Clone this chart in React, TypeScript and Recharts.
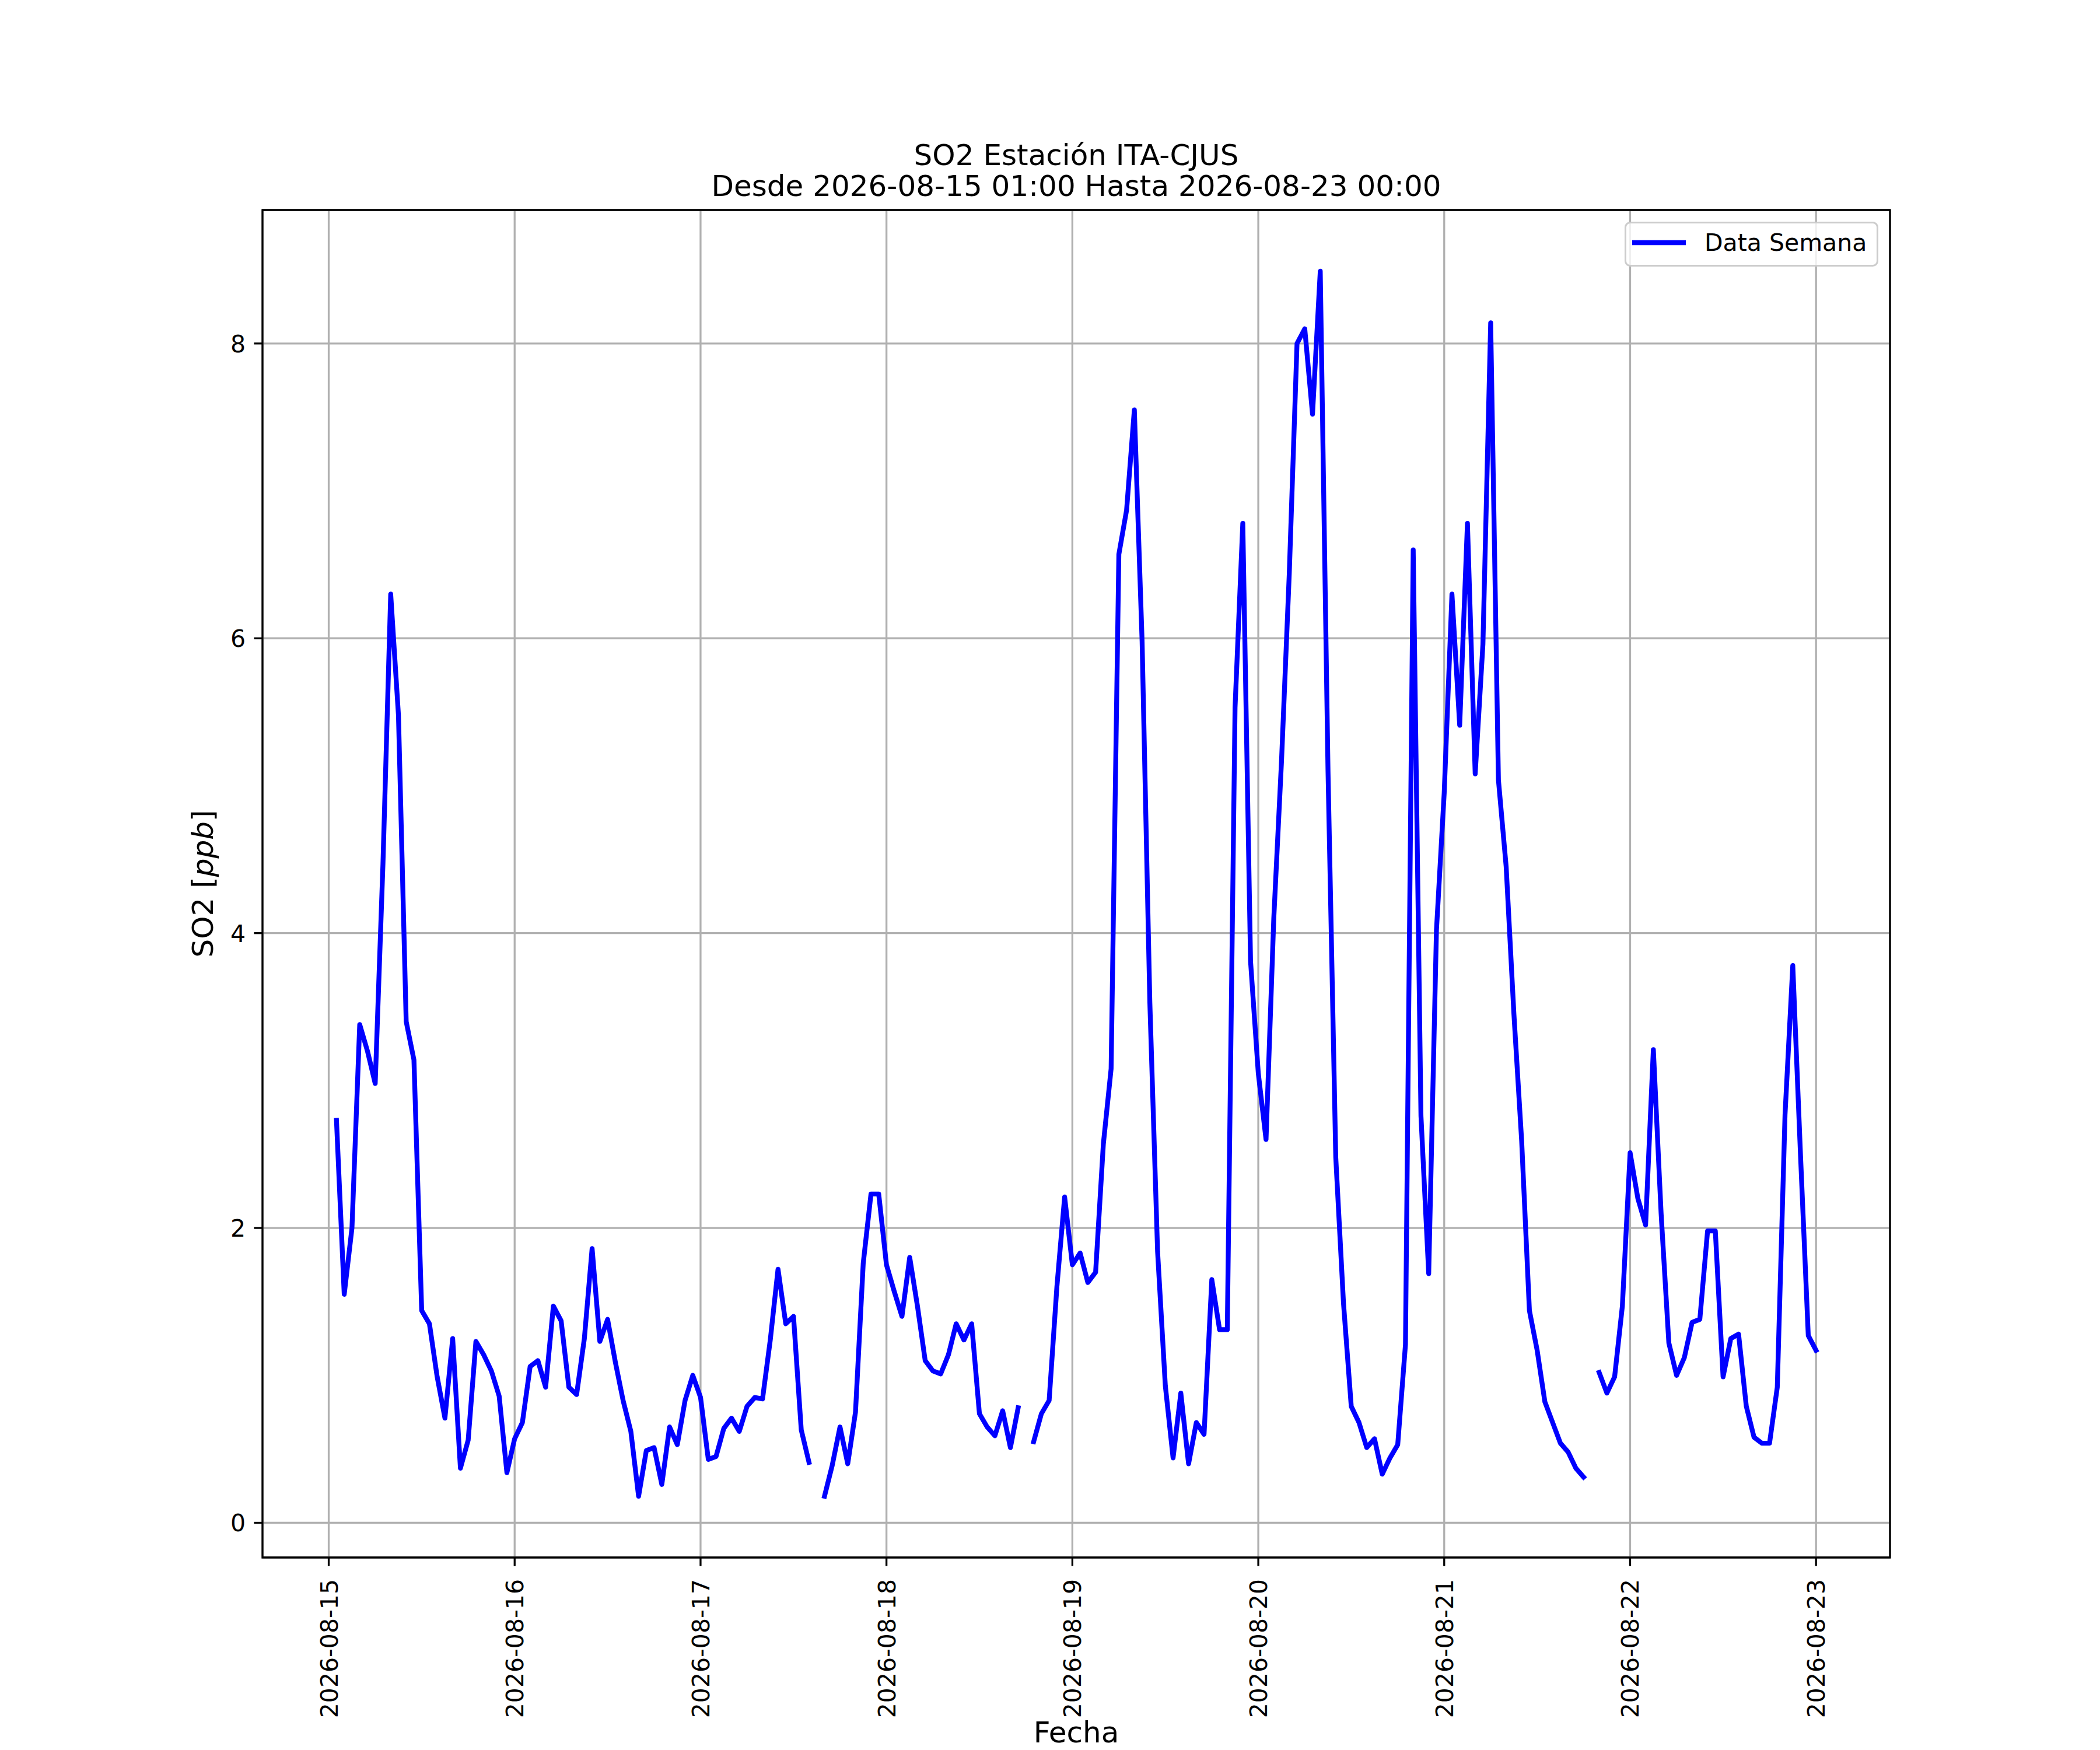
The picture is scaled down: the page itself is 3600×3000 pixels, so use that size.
import { LineChart, Line, XAxis, YAxis, CartesianGrid, Legend, ReferenceArea } from 'recharts'

// hourly SO2, each block runs from 01:00 of the day to 00:00 of the next
const day15 = [2.73, 1.55, 2.0, 3.38, 3.2, 2.98, 4.47, 6.3, 5.48, 3.4, 3.14, 1.44, 1.35, 0.99, 0.71, 1.25, 0.37, 0.56, 1.23, 1.14, 1.03, 0.86, 0.34, 0.57]
const day16 = [0.68, 1.06, 1.1, 0.92, 1.47, 1.37, 0.92, 0.87, 1.25, 1.86, 1.23, 1.38, 1.09, 0.83, 0.62, 0.18, 0.49, 0.51, 0.26, 0.65, 0.53, 0.83, 1.0, 0.85]
const day17 = [0.43, 0.45, 0.64, 0.71, 0.62, 0.79, 0.85, 0.84, 1.24, 1.72, 1.35, 1.4, 0.63, 0.41, null, 0.18, 0.39, 0.65, 0.4, 0.75, 1.76, 2.23, 2.23, 1.75]
const day18 = [1.57, 1.4, 1.8, 1.47, 1.1, 1.03, 1.01, 1.14, 1.35, 1.24, 1.35, 0.74, 0.65, 0.59, 0.76, 0.51, 0.78, null, 0.55, 0.74, 0.83, 1.6, 2.21, 1.75]
const day19 = [1.83, 1.63, 1.7, 2.57, 3.08, 6.57, 6.87, 7.55, 5.98, 3.53, 1.84, 0.93, 0.44, 0.88, 0.4, 0.68, 0.6, 1.65, 1.31, 1.31, 5.53, 6.78, 3.81, 3.05]
const day20 = [2.6, 4.1, 5.17, 6.44, 8.0, 8.1, 7.52, 8.49, 5.1, 2.48, 1.49, 0.79, 0.68, 0.51, 0.57, 0.33, 0.44, 0.53, 1.21, 6.6, 2.76, 1.69, 4.02, 4.95]
const day21 = [6.3, 5.41, 6.78, 5.08, 5.96, 8.14, 5.04, 4.45, 3.45, 2.59, 1.44, 1.17, 0.82, 0.68, 0.54, 0.48, 0.37, 0.31, null, 1.02, 0.88, 0.99, 1.47, 2.51]
const day22 = [2.2, 2.02, 3.21, 2.1, 1.22, 1.0, 1.12, 1.36, 1.38, 1.98, 1.98, 0.99, 1.25, 1.28, 0.79, 0.58, 0.54, 0.54, 0.92, 2.77, 3.78, 2.49, 1.27, 1.17]

const dayLabels = ['2026-08-15', '2026-08-16', '2026-08-17', '2026-08-18', '2026-08-19', '2026-08-20', '2026-08-21', '2026-08-22', '2026-08-23']
const yTicks = [0, 2, 4, 6, 8]

const TITLE_1 = 'SO2 Estación ITA-CJUS'
const TITLE_2 = 'Desde 2026-08-15 01:00 Hasta 2026-08-23 00:00'

const FONT = '"DejaVu Sans", sans-serif'
const BLUE = '#0000ff'

// hours since 2026-08-15 00:00
const values = [...day15, ...day16, ...day17, ...day18, ...day19, ...day20, ...day21, ...day22]
const data = values.map((v, i) => ({ t: i + 1, so2: v }))
const xTicks = dayLabels.map((_, i) => i * 24)

// matplotlib-style 5% margins
const X_DOMAIN = [1 - 191 * 0.05, 192 + 191 * 0.05]
const Y_DOMAIN = [0.18 - 8.31 * 0.05, 8.49 + 8.31 * 0.05]

const XTick = (props: any) => {
  const { x, payload } = props
  return (
    <text transform={`translate(${x + 15},2707) rotate(-90)`} textAnchor="end"
      fontFamily={FONT} fontSize={41} fill="#000">
      {dayLabels[payload.value / 24]}
    </text>
  )
}

const YTick = (props: any) => {
  const { y, payload } = props
  return (
    <text x={421} y={y} dy={15} textAnchor="end" fontFamily={FONT} fontSize={41} fill="#000">
      {payload.value}
    </text>
  )
}

const LegendBox = () => (
  <svg width={435} height={77} style={{ display: 'block' }}>
    <rect x={1.5} y={1.5} width={432} height={74} rx={8} fill="rgba(255,255,255,0.8)" stroke="#cccccc" strokeWidth={3} />
    <line x1={13} x2={105} y1={36} y2={36} stroke={BLUE} strokeWidth={8.3} />
    <text x={137} y={50} fontFamily={FONT} fontSize={41} fill="#000">Data Semana</text>
  </svg>
)

export default function App() {
  return (
    <div style={{ position: 'absolute', left: 0, top: 0, width: 3600, height: 3000, background: '#fff' }}>
      <svg width={3600} height={360} style={{ position: 'absolute', left: 0, top: 0 }}>
        <text x={1845} y={283} textAnchor="middle" fontFamily={FONT} fontSize={50} fill="#000">{TITLE_1}</text>
        <text x={1845} y={336} textAnchor="middle" fontFamily={FONT} fontSize={50} fill="#000">{TITLE_2}</text>
      </svg>
      <LineChart width={3600} height={3000} data={data}
        margin={{ top: 360, right: 360, bottom: 0, left: 0 }}>
        <CartesianGrid stroke="#b0b0b0" strokeWidth={3.3} />
        <XAxis dataKey="t" type="number" domain={X_DOMAIN} allowDataOverflow ticks={xTicks}
          height={330} axisLine={false} tickLine={{ stroke: '#000', strokeWidth: 3.3 }} tickSize={14.6}
          tick={<XTick />} interval={0}
          label={() => (
            <text x={1845} y={2987} textAnchor="middle" fontFamily={FONT} fontSize={50} fill="#000">Fecha</text>
          )} />
        <YAxis type="number" domain={Y_DOMAIN} allowDataOverflow ticks={yTicks}
          width={450} axisLine={false} tickLine={{ stroke: '#000', strokeWidth: 3.3 }} tickSize={14.6}
          tick={<YTick />} interval={0}
          label={() => (
            <text transform="translate(365,1515) rotate(-90)" textAnchor="middle" fontFamily={FONT} fontSize={50} fill="#000">
              SO2 [<tspan fontStyle="italic">ppb</tspan>]
            </text>
          )} />
        <Line type="linear" dataKey="so2" name="Data Semana" stroke={BLUE} strokeWidth={8.3}
          strokeLinejoin="round" strokeLinecap="square" dot={false} activeDot={false}
          connectNulls={false} isAnimationActive={false} />
        <ReferenceArea x1={X_DOMAIN[0]} x2={X_DOMAIN[1]} y1={Y_DOMAIN[0]} y2={Y_DOMAIN[1]}
          fill="none" stroke="#000" strokeWidth={3.3} ifOverflow="visible" />
        <Legend layout="horizontal" verticalAlign="middle" align="center" content={<LegendBox />}
          wrapperStyle={{ left: 2785, top: 380, width: 435, height: 77 }} />
      </LineChart>
    </div>
  )
}
